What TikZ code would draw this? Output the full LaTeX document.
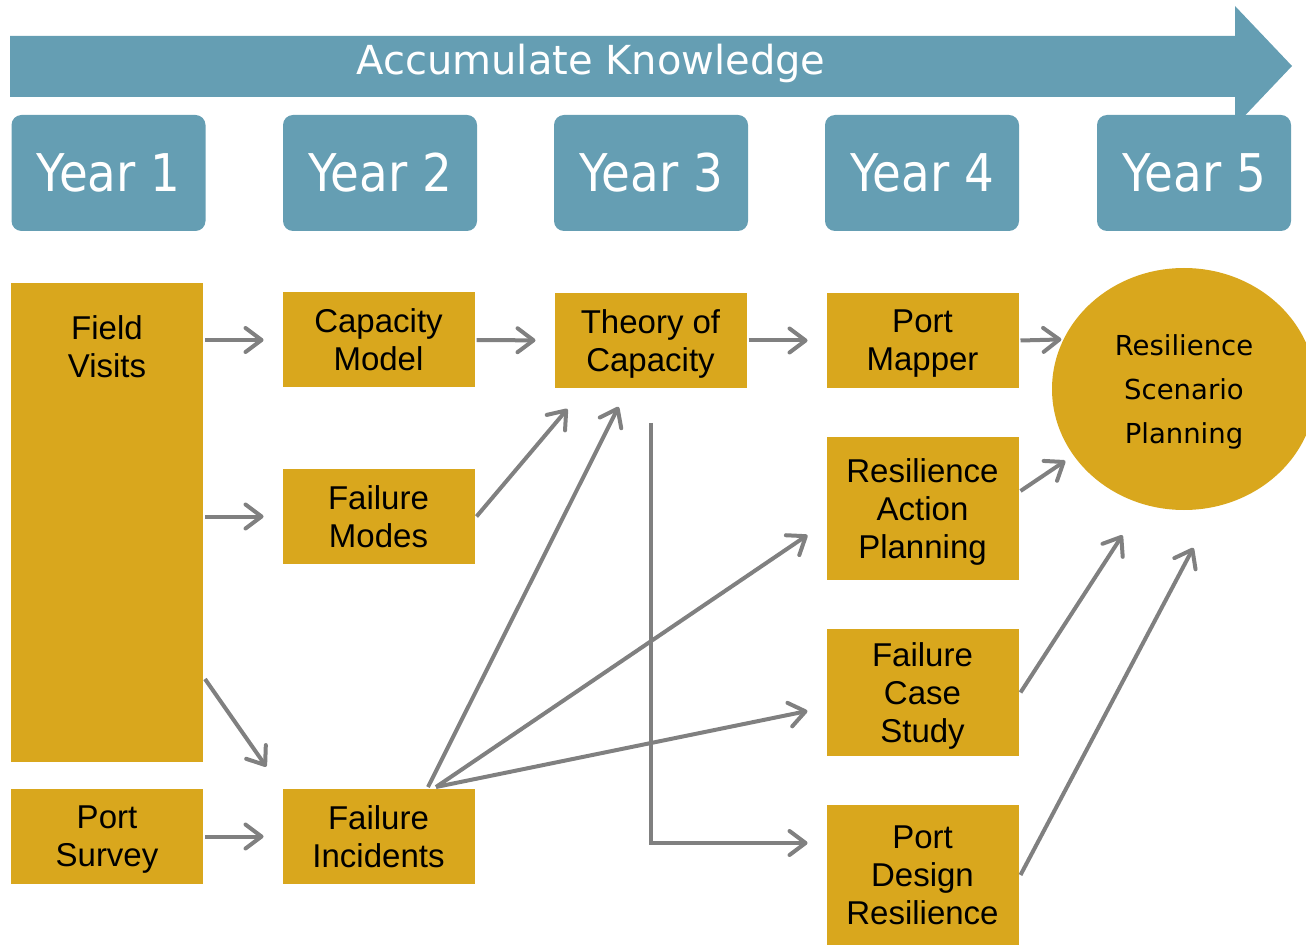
\documentclass[tikz,border=0pt]{standalone}
\usepackage{fontspec}
\setmainfont{Liberation Sans}
\newfontfamily\verd{DejaVu Sans}
\newfontfamily\verdnarrow[FakeStretch=0.9]{DejaVu Sans}
\usetikzlibrary{arrows.meta,shapes.geometric}
\definecolor{steel}{RGB}{101,158,179}
\definecolor{gold}{RGB}{217,167,29}
\definecolor{link}{RGB}{128,128,128}

\begin{document}
\begin{tikzpicture}[->, >={Straight Barb[length=8pt,width=12pt,round]}, x=0.5pt, y=-0.5pt,
    line width=2pt, shorten >=8.5pt, every edge/.style={draw, link}]

    \tikzstyle{year}=[fill=steel, rounded corners=5pt, minimum width=97pt, minimum height=58pt,
        text=white, font=\verdnarrow\fontsize{26}{30}\selectfont]
    \tikzstyle{task}=[fill=gold, minimum width=96pt, minimum height=47.5pt, inner sep=0pt,
        align=center, text depth=0pt, font=\fontsize{16.5}{19}\selectfont]

    \useasboundingbox (0,0) rectangle (1306,946);

    % banner arrow across the top
    \fill[steel, -, shorten >=0pt] (10,36) -- (1235,36) -- (1235,6) -- (1292,66)
        -- (1235,126) -- (1235,97) -- (10,97) -- cycle;
    \node[text=white, anchor=base, font=\verd\fontsize{20}{24}\selectfont] (banner) at (591,75)
        {Accumulate Knowledge};

    \node[year] (y1) at (108.5,173) {Year 1};
    \node[year] (y2) at (380,173)   {Year 2};
    \node[year] (y3) at (651,173)   {Year 3};
    \node[year] (y4) at (922,173)   {Year 4};
    \node[year] (y5) at (1194,173)  {Year 5};

    \node[task, minimum height=239.5pt,
          label={[anchor=north, yshift=-16.5pt, inner sep=0pt, align=center,
                  font=\fontsize{16.5}{19}\selectfont]north:{Field\\Visits}}] (field) at (107,522.5) {};
    \node[task] (survey)    at (107,836.5)   {Port\\Survey};
    \node[task] (capmodel)  at (378.5,340)   {Capacity\\Model};
    \node[task] (failmodes) at (378.5,516.5) {Failure\\Modes};
    \node[task] (incidents) at (378.5,836.5) {Failure\\Incidents};
    \node[task] (theory)    at (650.5,340.5) {Theory of\\Capacity};
    \node[task] (mapper)    at (922.5,340.5) {Port\\Mapper};
    \node[task, minimum height=71.5pt] (action)    at (922.5,508.5) {Resilience\\Action\\Planning};
    \node[task, minimum height=63.5pt] (casestudy) at (922.5,692.5) {Failure\\Case\\Study};
    \node[task, minimum height=70pt]   (design)    at (922.5,875)   {Port\\Design\\Resilience};
    \node[task, ellipse, minimum width=132pt, minimum height=121pt,
          font=\verd\fontsize{13.75}{22}\selectfont] (scenario) at (1184,389)
        {Resilience\\Scenario\\Planning};

    \path (field.east |- capmodel.west) edge (capmodel.west)
          (field.east |- failmodes.west) edge (failmodes.west)
          ([yshift=42.5pt]field.south east) edge [shorten >=12.4pt] (incidents.north west)
          (survey) edge (incidents)
          (capmodel) edge (theory)
          (failmodes.east) edge [shorten >=12.4pt] ([xshift=15.5pt]theory.south west)
          ([xshift=24.75pt]incidents.north) edge [shorten >=9.4pt] ([xshift=-11.75pt]theory.south)
          ([xshift=28.75pt]incidents.north) edge [shorten >=10.3pt] ([yshift=-7.5pt]action.west)
                                            edge [shorten >=8.7pt] ([yshift=-7.5pt]casestudy.west)
          (theory) edge (mapper)
          (mapper.east) edge [shorten >=0pt] (scenario.158)
          ([yshift=8.75pt]action.east) edge [shorten >=4pt] (scenario.211)
          (casestudy.east) edge [shorten >=17.6pt] (scenario.250)
          (design.east) edge [shorten >=22pt] (scenario.284);

    \draw[link, shorten <=16.5pt] (theory.south) |- ([yshift=16pt]design.west);
\end{tikzpicture}
\end{document}
